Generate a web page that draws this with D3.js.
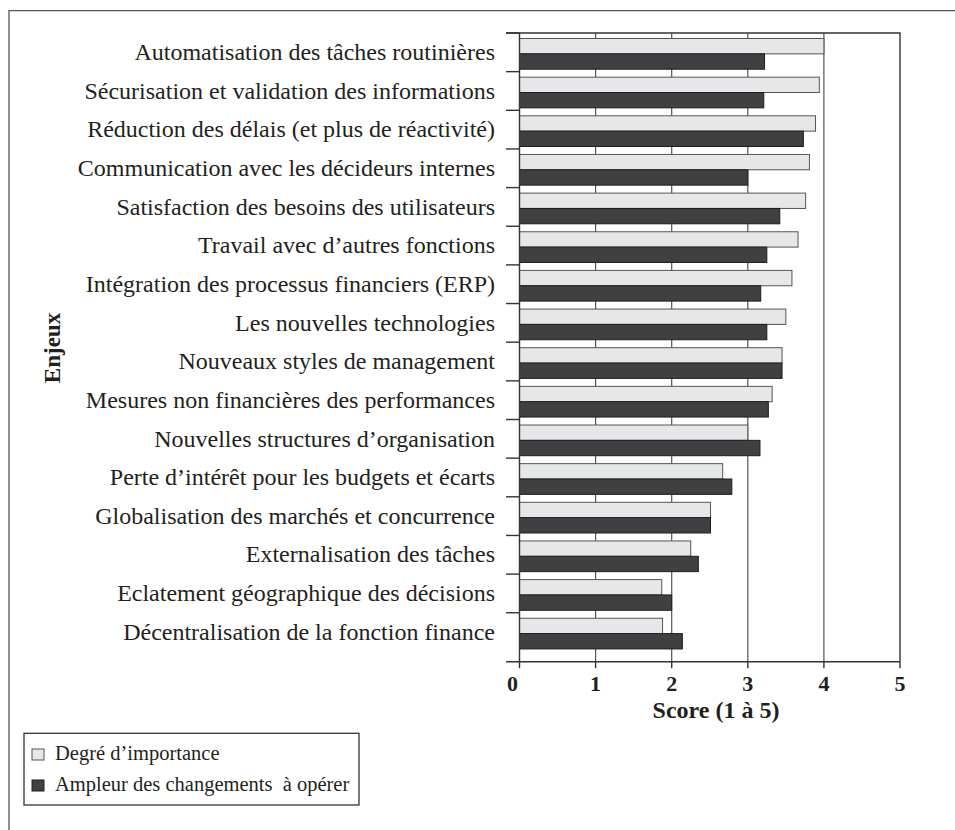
<!DOCTYPE html>
<html lang="fr">
<head>
<meta charset="utf-8">
<script src="https://cdnjs.cloudflare.com/ajax/libs/d3/7.8.5/d3.min.js"></script>
<style>
    html, body { margin: 0; padding: 0; background: #fff; }
    svg { display: block; font-family: "Liberation Serif", "Times New Roman", serif; }
</style>
</head>
<body>
<svg id="chart" width="955" height="830"></svg>
<script>
// Données
const ENJEUX = [
    'Automatisation des tâches routinières',
    'Sécurisation et validation des informations',
    'Réduction des délais (et plus de réactivité)',
    'Communication avec les décideurs internes',
    'Satisfaction des besoins des utilisateurs',
    'Travail avec d’autres fonctions',
    'Intégration des processus financiers (ERP)',
    'Les nouvelles technologies',
    'Nouveaux styles de management',
    'Mesures non financières des performances',
    'Nouvelles structures d’organisation',
    'Perte d’intérêt pour les budgets et écarts',
    'Globalisation des marchés et concurrence',
    'Externalisation des tâches',
    'Eclatement géographique des décisions',
    'Décentralisation de la fonction finance'
];

const IMPORTANCE = [4.0, 3.94, 3.89, 3.81, 3.76, 3.66, 3.58, 3.50, 3.45, 3.32, 3.0, 2.67, 2.51, 2.25, 1.87, 1.88];
const AMPLEUR    = [3.22, 3.21, 3.73, 3.0, 3.42, 3.25, 3.17, 3.25, 3.45, 3.27, 3.16, 2.79, 2.51, 2.35, 2.0, 2.14];

const X_TICKS = [0, 1, 2, 3, 4, 5];
const SERIES = ['Degré d’importance', 'Ampleur des changements  à opérer'];
const COLORS = { fill: ['#e6e7e8', '#404042'], stroke: ['#555', '#1e1e1e'] };
const INK = '#231f20';

// Géométrie
const plot = { left: 519.5, right: 900, top: 33, bottom: 661.7 };
const step = 38.65;

const svg = d3.select('#chart');

const x = d3.scaleLinear().domain([0, 5]).range([plot.left, plot.right]);
const y = d3.scaleBand().domain(ENJEUX).range([plot.top, plot.top + step * ENJEUX.length]);
const inner = d3.scaleBand().domain([0, 1]).range([5.5, 36.2]);

const rows = ENJEUX.map((name, i) => ({ name, values: [IMPORTANCE[i], AMPLEUR[i]] }));

// Cadre extérieur (haut + gauche)
svg.append('path')
    .attr('d', 'M9,830 V10.7 H955')
    .attr('fill', 'none')
    .attr('stroke', '#555')
    .attr('stroke-width', 1.3);

// Grille verticale
svg.append('g')
    .selectAll('line')
    .data(X_TICKS.filter(t => t > 0 && t < 5))
    .join('line')
    .attr('x1', d => x(d)).attr('x2', d => x(d))
    .attr('y1', plot.top).attr('y2', plot.bottom)
    .attr('stroke', '#555')
    .attr('stroke-width', 1.2);

// Barres
const groups = svg.append('g')
    .selectAll('g')
    .data(rows)
    .join('g')
    .attr('transform', d => `translate(0,${y(d.name)})`);

groups.selectAll('rect')
    .data(d => d.values.map((v, k) => ({ v, k })))
    .join('rect')
    .attr('x', x(0))
    .attr('y', d => inner(d.k))
    .attr('width', d => x(d.v) - x(0))
    .attr('height', inner.bandwidth())
    .attr('fill', d => COLORS.fill[d.k])
    .attr('stroke', d => COLORS.stroke[d.k])
    .attr('stroke-width', 1);

// Bordures du graphique
svg.append('path')
    .attr('d', `M506,${plot.top} H${plot.right} V${plot.bottom}`)
    .attr('fill', 'none')
    .attr('stroke', '#333')
    .attr('stroke-width', 1.4);

svg.append('line')
    .attr('x1', plot.left).attr('x2', plot.left)
    .attr('y1', plot.top).attr('y2', plot.bottom)
    .attr('stroke', '#333')
    .attr('stroke-width', 1.4);

svg.append('line')
    .attr('x1', 506).attr('x2', plot.right)
    .attr('y1', plot.bottom).attr('y2', plot.bottom)
    .attr('stroke', '#333')
    .attr('stroke-width', 1.4);

// Graduations gauche
svg.append('g')
    .selectAll('line')
    .data(ENJEUX)
    .join('line')
    .attr('x1', 506).attr('x2', plot.left)
    .attr('y1', d => y(d)).attr('y2', d => y(d))
    .attr('stroke', '#333')
    .attr('stroke-width', 1.4);

// Graduations bas
svg.append('g')
    .selectAll('line')
    .data(X_TICKS)
    .join('line')
    .attr('x1', d => x(d)).attr('x2', d => x(d))
    .attr('y1', plot.bottom).attr('y2', plot.bottom + 6.5)
    .attr('stroke', '#333')
    .attr('stroke-width', 1.4);

svg.append('g')
    .selectAll('text')
    .data(X_TICKS)
    .join('text')
    .attr('x', d => x(d) + (d === 0 ? -7 : 0))
    .attr('y', 691)
    .attr('text-anchor', 'middle')
    .attr('font-size', 22)
    .attr('font-weight', 'bold')
    .attr('fill', INK)
    .text(d => d);

// Libellés des enjeux
svg.append('g')
    .selectAll('text')
    .data(ENJEUX)
    .join('text')
    .attr('x', 495)
    .attr('y', d => y(d) + 27)
    .attr('text-anchor', 'end')
    .attr('font-size', 24)
    .attr('fill', INK)
    .text(d => d);

// Titres des axes
svg.append('text')
    .attr('x', 716)
    .attr('y', 718)
    .attr('text-anchor', 'middle')
    .attr('font-size', 24)
    .attr('font-weight', 'bold')
    .attr('fill', INK)
    .text('Score (1 à 5)');

svg.append('text')
    .attr('transform', 'translate(52,348) rotate(-90)')
    .attr('text-anchor', 'middle')
    .attr('dominant-baseline', 'central')
    .attr('font-size', 23)
    .attr('font-weight', 'bold')
    .attr('fill', INK)
    .text('Enjeux');

// Légende
const legend = svg.append('g');

legend.append('rect')
    .attr('x', 24).attr('y', 733.3)
    .attr('width', 335).attr('height', 71.7)
    .attr('fill', '#fff')
    .attr('stroke', '#333')
    .attr('stroke-width', 1.3);

const items = legend.selectAll('g')
    .data(SERIES)
    .join('g')
    .attr('transform', (d, i) => `translate(0,${760 + i * 31})`);

items.append('rect')
    .attr('x', 32).attr('y', -11)
    .attr('width', 12).attr('height', 11)
    .attr('fill', (d, i) => COLORS.fill[i])
    .attr('stroke', (d, i) => COLORS.stroke[i])
    .attr('stroke-width', 1);

items.append('text')
    .attr('x', 55).attr('y', 0)
    .attr('font-size', 20.5)
    .attr('fill', INK)
    .style('white-space', 'pre')
    .text(d => d);
</script>
</body>
</html>
